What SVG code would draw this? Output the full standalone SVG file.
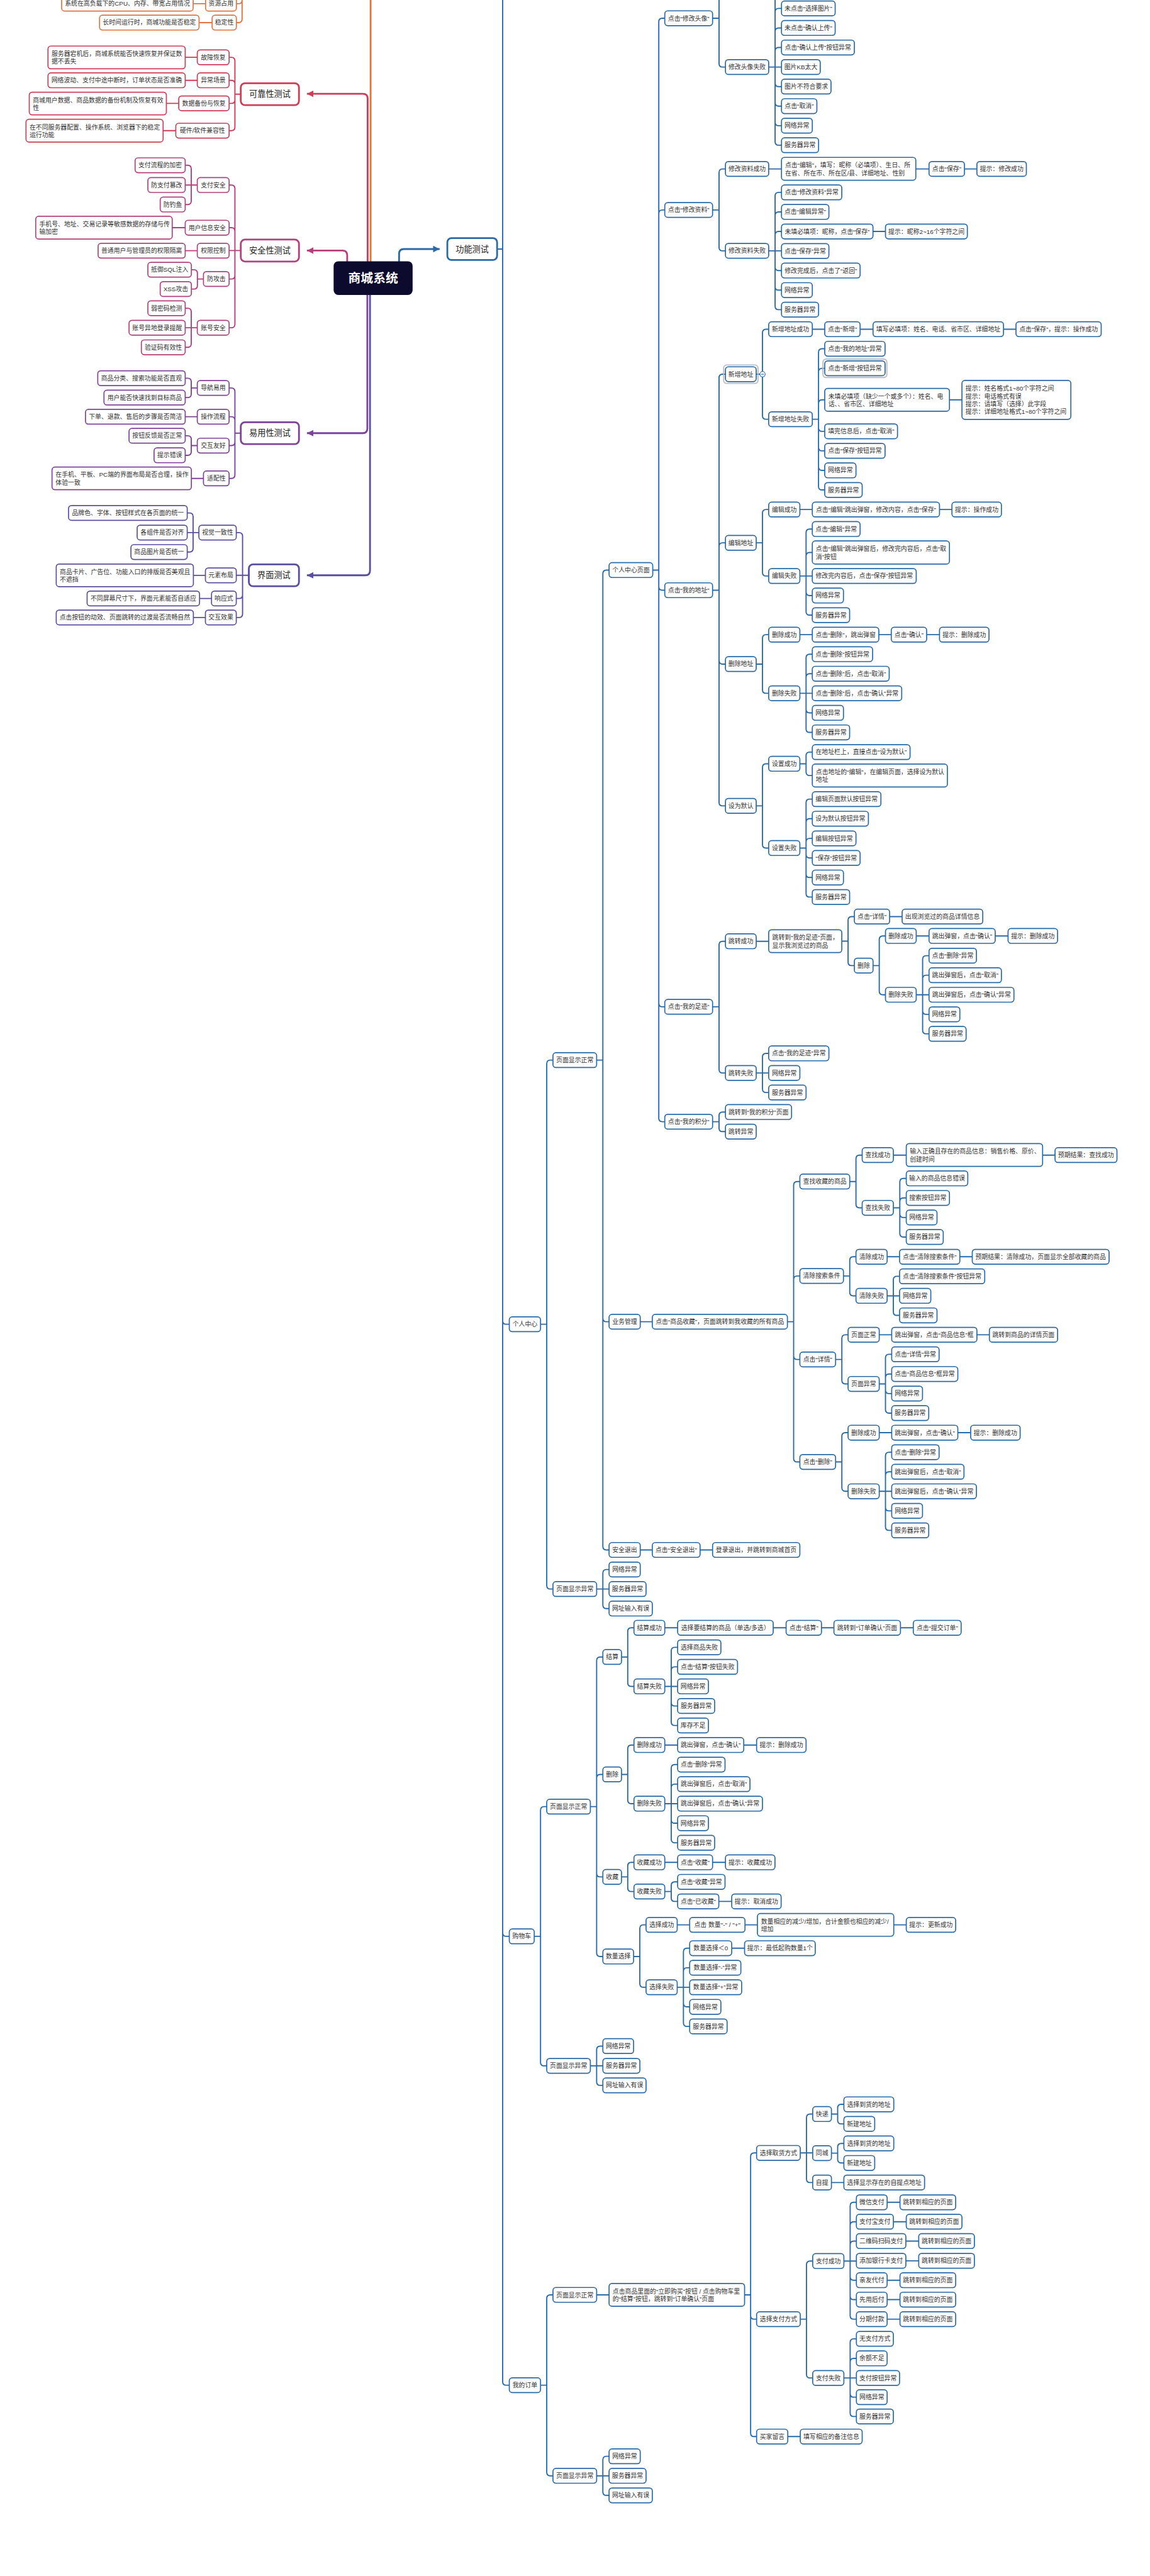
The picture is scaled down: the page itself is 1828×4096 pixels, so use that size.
<svg xmlns="http://www.w3.org/2000/svg" width="1828" height="4096" viewBox="0 0 1828 4096">
<defs>
<style>
text,tspan{font-family:"Liberation Sans","Noto Sans CJK SC","Noto Sans",sans-serif;font-size:10.5px;fill:#333;dominant-baseline:central}
text{text-anchor:middle}
text.ml{text-anchor:start}
rect{fill:#fff;stroke-width:1.8px;rx:5px;ry:5px}
.b rect{stroke:#2a6aa6}
.p rect{stroke:#e0743f}
.r rect{stroke:#cc3d57}
.s rect{stroke:#b2407a}
.u rect{stroke:#7e4399}
.i rect{stroke:#5a4f9e}
.rt rect{stroke-width:3px;rx:7px;ry:7px}
.rt text{font-size:14px;fill:#222}
.b rect.hl{fill:none;stroke:#bdbdbd;stroke-width:2px}
#root rect{fill:#0c0b2e;stroke:#0c0b2e;rx:7px;ry:7px}
#root text{fill:#fff;font-size:21px;font-weight:bold}
path{fill:none;stroke-width:2px}
.cb{stroke:#2a6aa6}.cp{stroke:#e0743f}.cr{stroke:#cc3d57}.cs{stroke:#b2407a}.cu{stroke:#7e4399}.ci{stroke:#5a4f9e}
.m{stroke-width:3px}
#mb path{fill:#2a6aa6;stroke:none}#mr path{fill:#cc3d57;stroke:none}#ms path{fill:#b2407a;stroke:none}#mu path{fill:#7e4399;stroke:none}#mi path{fill:#5a4f9e;stroke:none}
#collapse circle{fill:#fff;stroke:#2a6aa6;stroke-width:1.2px}
#collapse path{stroke:#2a6aa6;stroke-width:1.2px}
</style>
<marker id="mb" markerUnits="userSpaceOnUse" markerWidth="12" markerHeight="12" refX="11" refY="6" orient="auto"><path d="M0,0.5L11,6L0,11.5z"/></marker>
<marker id="mr" markerUnits="userSpaceOnUse" markerWidth="12" markerHeight="12" refX="11" refY="6" orient="auto"><path d="M0,0.5L11,6L0,11.5z"/></marker>
<marker id="ms" markerUnits="userSpaceOnUse" markerWidth="12" markerHeight="12" refX="11" refY="6" orient="auto"><path d="M0,0.5L11,6L0,11.5z"/></marker>
<marker id="mu" markerUnits="userSpaceOnUse" markerWidth="12" markerHeight="12" refX="11" refY="6" orient="auto"><path d="M0,0.5L11,6L0,11.5z"/></marker>
<marker id="mi" markerUnits="userSpaceOnUse" markerWidth="12" markerHeight="12" refX="11" refY="6" orient="auto"><path d="M0,0.5L11,6L0,11.5z"/></marker>
</defs>
<g transform="scale(0.9418)">
<g id="connectors">
<path class="cb m" d="M673.6,442V428.5Q673.6,420.5 681.6,420.5H742" marker-end="url(#mb)"/>
<path class="cs m" d="M586,442V431Q586,423 578,423H518" marker-end="url(#ms)"/>
<path class="cr m" d="M620.5,442V166.4Q620.5,158.4 612.5,158.4H518" marker-end="url(#mr)"/>
<path class="cp m" d="M625.5,442V-30"/>
<path class="cu m" d="M620,497V723.3Q620,731.3 612,731.3H518" marker-end="url(#mu)"/>
<path class="ci m" d="M624.5,497V963.3Q624.5,971.3 616.5,971.3H518" marker-end="url(#mi)"/>
<path class="cp" d="M399,6.2H402.6Q408.6,6.2 408.6,0.2V-30M399,38.2H402.6Q408.6,38.2 408.6,32.2V-30M347,6.2H326M358,38.2H336"/>
<path class="cr" d="M406.4,159H396.5M396.5,159V102.8Q396.5,96.8 390.5,96.8H386.7M396.5,159V141.6Q396.5,135.6 390.5,135.6H386.7M396.5,159V168.5Q396.5,174.5 390.5,174.5H386.7M396.5,159V214.6Q396.5,220.6 390.5,220.6H386.7M333,96.8H312.6M333,135.6H312.6M301.7,174.5H280.8M296.7,220.6H275.3"/>
<path class="cs" d="M406.4,423H396.5M396.5,423V318.4Q396.5,312.4 390.5,312.4H386.7M396.5,423V390.4Q396.5,384.4 390.5,384.4H386.7M396.5,423H386.7M396.5,423V465Q396.5,471 390.5,471H386.7M396.5,423V547.3Q396.5,553.3 390.5,553.3H386.7M333,312.4H312.6M322.8,312.4V285Q322.8,279 316.8,279H312.6M322.8,312.4V339.3Q322.8,345.3 316.8,345.3H312.6M312.6,384.4H290.7M333,423.3H312.6M343.4,471H333.2M333.2,471V461.4Q333.2,455.4 327.2,455.4H323M333.2,471V482Q333.2,488 327.2,488H323M333,553.3H312.6M322.8,553.3V526.4Q322.8,520.4 316.8,520.4H312.6M322.8,553.3V580.4Q322.8,586.4 316.8,586.4H312.6"/>
<path class="cu" d="M406.4,731.3H396.5M396.5,731.3V661Q396.5,655 390.5,655H386.7M396.5,731.3V709.6Q396.5,703.6 390.5,703.6H386.7M396.5,731.3V746.3Q396.5,752.3 390.5,752.3H386.7M396.5,731.3V801.7Q396.5,807.7 390.5,807.7H386.7M333,655H322.8M322.8,655V644.5Q322.8,638.5 316.8,638.5H312.6M322.8,655V665.2Q322.8,671.2 316.8,671.2H312.6M333,703.6H312.6M333,752.3H322.8M322.8,752.3V741.7Q322.8,735.7 316.8,735.7H312.6M322.8,752.3V762.7Q322.8,768.7 316.8,768.7H312.6M343.4,807.7H323"/>
<path class="ci" d="M420,971.3H398.8M409.4,971.3V905.2Q409.4,899.2 403.4,899.2H398.8M409.4,971.3V1004.4Q409.4,1010.4 403.4,1010.4H398.8M409.4,971.3V1036.5Q409.4,1042.5 403.4,1042.5H398.8M335.7,899.2H316M325.9,899.2V872Q325.9,866 319.9,866H316M325.9,899.2V926Q325.9,932 319.9,932H316M346.7,971.4H326.4M357,1010.4H336.8M346.7,1042.5H326.4"/>
<path class="cb" d="M839,420.5H848.4M848.4,-20V4021Q848.4,4027 854.4,4027H859.6M848.4,2229.8Q848.4,2235.8 854.4,2235.8H859.6M848.4,3263.2Q848.4,3269.2 854.4,3269.2H859.6"/>
<path class="cb" d="M912.3,2235.8H922.8M922.8,2235.8V1795.8Q922.8,1789.8 928.8,1789.8H933.3M922.8,2235.8V2676.8Q922.8,2682.8 928.8,2682.8H933.3M1007,1789.8H1017.5M1017.5,1789.8V968.5Q1017.5,962.5 1023.5,962.5H1028M1017.5,1789.8V2225.5Q1017.5,2231.5 1023.5,2231.5H1028M1017.5,1789.8V2610.8Q1017.5,2616.8 1023.5,2616.8H1028M1007,2682.8H1028M1017.5,2682.8V2655.8Q1017.5,2649.8 1023.5,2649.8H1028M1017.5,2682.8V2709.8Q1017.5,2715.8 1023.5,2715.8H1028"/>
<path class="cb" d="M1101.7,962.5H1111.9M1111.9,962.5V36.8Q1111.9,30.8 1117.9,30.8H1122M1111.9,962.5V360.5Q1111.9,354.5 1117.9,354.5H1122M1111.9,962.5V990.5Q1111.9,996.5 1117.9,996.5H1122M1111.9,962.5V1693.8Q1111.9,1699.8 1117.9,1699.8H1122M1111.9,962.5V1887.8Q1111.9,1893.8 1117.9,1893.8H1122"/>
<path class="cb" d="M1202.7,30.8H1213.6M1213.6,30.8V-45.6Q1213.6,-51.6 1219.6,-51.6H1224.4M1213.6,30.8V107.2Q1213.6,113.2 1219.6,113.2H1224.4M1297.4,113.2H1319M1308.2,113.2V-12.8Q1308.2,-18.8 1314.2,-18.8H1319M1308.2,113.2V20.2Q1308.2,14.2 1314.2,14.2H1319M1308.2,113.2V53.2Q1308.2,47.2 1314.2,47.2H1319M1308.2,113.2V86.2Q1308.2,80.2 1314.2,80.2H1319M1308.2,113.2V140.2Q1308.2,146.2 1314.2,146.2H1319M1308.2,113.2V173.2Q1308.2,179.2 1314.2,179.2H1319M1308.2,113.2V206.2Q1308.2,212.2 1314.2,212.2H1319M1308.2,113.2V239.2Q1308.2,245.2 1314.2,245.2H1319"/>
<path class="cb" d="M1202.7,354.5H1213.6M1213.6,354.5V291.2Q1213.6,285.2 1219.6,285.2H1224.4M1213.6,354.5V417.5Q1213.6,423.5 1219.6,423.5H1224.4M1297.4,285.2H1319M1545.7,285.2H1568M1627.8,285.2H1648.8M1297.4,423.5H1319M1308.2,423.5V330.8Q1308.2,324.8 1314.2,324.8H1319M1308.2,423.5V363.8Q1308.2,357.8 1314.2,357.8H1319M1308.2,423.5V396.8Q1308.2,390.8 1314.2,390.8H1319M1308.2,423.5V450.8Q1308.2,456.8 1314.2,456.8H1319M1308.2,423.5V483.8Q1308.2,489.8 1314.2,489.8H1319M1308.2,423.5V516.8Q1308.2,522.8 1314.2,522.8H1319M1473.4,390.8H1494.5"/>
<path class="cb" d="M1202.7,996.5H1213.6M1213.6,996.5V637.8Q1213.6,631.8 1219.6,631.8H1224.4M1213.6,996.5V922.5Q1213.6,916.5 1219.6,916.5H1224.4M1213.6,996.5V1115.2Q1213.6,1121.2 1219.6,1121.2H1224.4M1213.6,996.5V1354.5Q1213.6,1360.5 1219.6,1360.5H1224.4"/>
<path class="cb" d="M1276.3,631.8H1286.9M1286.9,631.8V561.8Q1286.9,555.8 1292.9,555.8H1297.4M1286.9,631.8V701.8Q1286.9,707.8 1292.9,707.8H1297.4M1371,555.8H1392M1451.7,555.8H1473.5M1693.7,555.8H1714.8M1371,707.8H1381.5M1381.5,707.8V594.8Q1381.5,588.8 1387.5,588.8H1392M1381.5,707.8V627.8Q1381.5,621.8 1387.5,621.8H1392M1381.5,707.8V681Q1381.5,675 1387.5,675H1392M1381.5,707.8V722.2Q1381.5,728.2 1387.5,728.2H1392M1381.5,707.8V755.2Q1381.5,761.2 1387.5,761.2H1392M1381.5,707.8V788.2Q1381.5,794.2 1387.5,794.2H1392M1381.5,707.8V821.2Q1381.5,827.2 1387.5,827.2H1392M1602.5,675H1623.6"/>
<path class="cb" d="M1276.3,916.5H1286.9M1286.9,916.5V866.2Q1286.9,860.2 1292.9,860.2H1297.4M1286.9,916.5V966.5Q1286.9,972.5 1292.9,972.5H1297.4M1350,860.2H1371M1585.7,860.2H1606.7M1350,972.5H1371M1360.5,972.5V899.2Q1360.5,893.2 1366.5,893.2H1371M1360.5,972.5V938.8Q1360.5,932.8 1366.5,932.8H1371M1360.5,972.5V999.5Q1360.5,1005.5 1366.5,1005.5H1371M1360.5,972.5V1032.5Q1360.5,1038.5 1366.5,1038.5H1371"/>
<path class="cb" d="M1276.3,1121.2H1286.9M1286.9,1121.2V1077.5Q1286.9,1071.5 1292.9,1071.5H1297.4M1286.9,1121.2V1164.5Q1286.9,1170.5 1292.9,1170.5H1297.4M1350,1071.5H1371M1483.3,1071.5H1504.3M1564,1071.5H1585.7M1350,1170.5H1371M1360.5,1170.5V1110.5Q1360.5,1104.5 1366.5,1104.5H1371M1360.5,1170.5V1143.5Q1360.5,1137.5 1366.5,1137.5H1371M1360.5,1170.5V1197.5Q1360.5,1203.5 1366.5,1203.5H1371M1360.5,1170.5V1230.5Q1360.5,1236.5 1366.5,1236.5H1371"/>
<path class="cb" d="M1276.3,1360.5H1286.9M1286.9,1360.5V1295.5Q1286.9,1289.5 1292.9,1289.5H1297.4M1286.9,1360.5V1425.8Q1286.9,1431.8 1292.9,1431.8H1297.4M1350,1289.5H1360.5M1360.5,1289.5V1275.8Q1360.5,1269.8 1366.5,1269.8H1371M1360.5,1289.5V1303.3Q1360.5,1309.3 1366.5,1309.3H1371M1350,1431.8H1360.5M1360.5,1431.8V1355.2Q1360.5,1349.2 1366.5,1349.2H1371M1360.5,1431.8V1388.2Q1360.5,1382.2 1366.5,1382.2H1371M1360.5,1431.8V1421.5Q1360.5,1415.5 1366.5,1415.5H1371M1360.5,1431.8V1442.5Q1360.5,1448.5 1366.5,1448.5H1371M1360.5,1431.8V1475.5Q1360.5,1481.5 1366.5,1481.5H1371M1360.5,1431.8V1508.5Q1360.5,1514.5 1366.5,1514.5H1371"/>
<path class="cb" d="M1202.7,1699.8H1213.6M1213.6,1699.8V1595.2Q1213.6,1589.2 1219.6,1589.2H1224.4M1213.6,1699.8V1805.5Q1213.6,1811.5 1219.6,1811.5H1224.4M1276.3,1589.2H1297.4M1420.8,1589H1431.4M1431.4,1589V1553.5Q1431.4,1547.5 1437.4,1547.5H1442M1431.4,1589V1624.2Q1431.4,1630.2 1437.4,1630.2H1442M1501.5,1547.5H1522.6M1473.5,1630.2H1484M1484,1630.2V1586.2Q1484,1580.2 1490,1580.2H1494.5M1484,1630.2V1673.5Q1484,1679.5 1490,1679.5H1494.5M1546.4,1580.2H1568M1679.7,1580.2H1701.4M1546.4,1679.5H1568M1557.2,1679.5V1619.5Q1557.2,1613.5 1563.2,1613.5H1568M1557.2,1679.5V1652.5Q1557.2,1646.5 1563.2,1646.5H1568M1557.2,1679.5V1706.5Q1557.2,1712.5 1563.2,1712.5H1568M1557.2,1679.5V1739.5Q1557.2,1745.5 1563.2,1745.5H1568"/>
<path class="cb" d="M1276.3,1811.5H1297.4M1286.9,1811.5V1784.5Q1286.9,1778.5 1292.9,1778.5H1297.4M1286.9,1811.5V1838.5Q1286.9,1844.5 1292.9,1844.5H1297.4M1202.7,1893.8H1213.6M1213.6,1893.8V1883.5Q1213.6,1877.5 1219.6,1877.5H1224.4M1213.6,1893.8V1904.5Q1213.6,1910.5 1219.6,1910.5H1224.4"/>
<path class="cb" d="M1080.6,2231.5H1101M1329,2231.5H1339.5M1339.5,2231.5V2000.8Q1339.5,1994.8 1345.5,1994.8H1350M1339.5,2231.5V2160.2Q1339.5,2154.2 1345.5,2154.2H1350M1339.5,2231.5V2289.2Q1339.5,2295.2 1345.5,2295.2H1350M1339.5,2231.5V2462.2Q1339.5,2468.2 1345.5,2468.2H1350"/>
<path class="cb" d="M1434.2,1994.8H1444.7M1444.7,1994.8V1956.2Q1444.7,1950.2 1450.7,1950.2H1455.2M1444.7,1994.8V2033.2Q1444.7,2039.2 1450.7,2039.2H1455.2M1507.8,1950.2H1529.6M1759.7,1950.2H1780.7M1507.8,2039.2H1518.7M1518.7,2039.2V1995.5Q1518.7,1989.5 1524.7,1989.5H1529.6M1518.7,2039.2V2028.5Q1518.7,2022.5 1524.7,2022.5H1529.6M1518.7,2039.2V2049.5Q1518.7,2055.5 1524.7,2055.5H1529.6M1518.7,2039.2V2082.5Q1518.7,2088.5 1524.7,2088.5H1529.6"/>
<path class="cb" d="M1423.6,2154.2H1434.2M1434.2,2154.2V2127.8Q1434.2,2121.8 1440.2,2121.8H1444.7M1434.2,2154.2V2181.8Q1434.2,2187.8 1440.2,2187.8H1444.7M1497.3,2121.8H1518.3M1620,2121.8H1641M1497.3,2187.8H1518.3M1507.8,2187.8V2160.8Q1507.8,2154.8 1513.8,2154.8H1518.3M1507.8,2187.8V2214.8Q1507.8,2220.8 1513.8,2220.8H1518.3"/>
<path class="cb" d="M1410.3,2295.2H1420.9M1420.9,2295.2V2259.5Q1420.9,2253.5 1426.9,2253.5H1431.4M1420.9,2295.2V2330.5Q1420.9,2336.5 1426.9,2336.5H1431.4M1484,2253.5H1505M1648.8,2253.5H1669.9M1484,2336.5H1494.5M1494.5,2336.5V2292.5Q1494.5,2286.5 1500.5,2286.5H1505M1494.5,2336.5V2325.8Q1494.5,2319.8 1500.5,2319.8H1505M1494.5,2336.5V2346.8Q1494.5,2352.8 1500.5,2352.8H1505M1494.5,2336.5V2379.8Q1494.5,2385.8 1500.5,2385.8H1505"/>
<path class="cb" d="M1410.3,2468.2H1420.9M1420.9,2468.2V2424.8Q1420.9,2418.8 1426.9,2418.8H1431.4M1420.9,2468.2V2511.8Q1420.9,2517.8 1426.9,2517.8H1431.4M1484,2418.8H1505M1616.6,2418.8H1638.3M1484,2517.8H1505M1494.5,2517.8V2457.8Q1494.5,2451.8 1500.5,2451.8H1505M1494.5,2517.8V2490.8Q1494.5,2484.8 1500.5,2484.8H1505M1494.5,2517.8V2544.8Q1494.5,2550.8 1500.5,2550.8H1505M1494.5,2517.8V2577.8Q1494.5,2583.8 1500.5,2583.8H1505M1080.6,2616.8H1101M1181.6,2616.8H1202.7"/>
<path class="cb" d="M901.7,3269.2H912.3M912.3,3269.2V3056.2Q912.3,3050.2 918.3,3050.2H922.8M912.3,3269.2V3481.8Q912.3,3487.8 918.3,3487.8H922.8M996.4,3050.2H1007M1007,3050.2V2803.5Q1007,2797.5 1013,2797.5H1017.5M1007,3050.2V3001.8Q1007,2995.8 1013,2995.8H1017.5M1007,3050.2V3162.8Q1007,3168.8 1013,3168.8H1017.5M1007,3050.2V3297.2Q1007,3303.2 1013,3303.2H1017.5M996.4,3487.8H1017.5M1007,3487.8V3460.5Q1007,3454.5 1013,3454.5H1017.5M1007,3487.8V3514.8Q1007,3520.8 1013,3520.8H1017.5"/>
<path class="cb" d="M1049,2797.5H1059.5M1059.5,2797.5V2754.2Q1059.5,2748.2 1065.5,2748.2H1070M1059.5,2797.5V2841.2Q1059.5,2847.2 1065.5,2847.2H1070M1122,2748.2H1143.7M1305,2748.2H1326.8M1386.5,2748.2H1407.5M1519.8,2748.2H1541.5M1122,2847.2H1143.7M1132.9,2847.2V2787.2Q1132.9,2781.2 1138.9,2781.2H1143.7M1132.9,2847.2V2820.2Q1132.9,2814.2 1138.9,2814.2H1143.7M1132.9,2847.2V2874.2Q1132.9,2880.2 1138.9,2880.2H1143.7M1132.9,2847.2V2907.2Q1132.9,2913.2 1138.9,2913.2H1143.7"/>
<path class="cb" d="M1049,2995.8H1059.5M1059.5,2995.8V2952.2Q1059.5,2946.2 1065.5,2946.2H1070M1059.5,2995.8V3039.2Q1059.5,3045.2 1065.5,3045.2H1070M1122,2946.2H1143.7M1255.3,2946.2H1277M1122,3045.2H1143.7M1132.9,3045.2V2985.2Q1132.9,2979.2 1138.9,2979.2H1143.7M1132.9,3045.2V3018.2Q1132.9,3012.2 1138.9,3012.2H1143.7M1132.9,3045.2V3072.2Q1132.9,3078.2 1138.9,3078.2H1143.7M1132.9,3045.2V3105.2Q1132.9,3111.2 1138.9,3111.2H1143.7"/>
<path class="cb" d="M1049,3168.8H1059.5M1059.5,3168.8V3150.2Q1059.5,3144.2 1065.5,3144.2H1070M1059.5,3168.8V3187.5Q1059.5,3193.5 1065.5,3193.5H1070M1122,3144.2H1143.7M1202.7,3144.2H1224.4M1122,3193.5H1132.9M1132.9,3193.5V3183.2Q1132.9,3177.2 1138.9,3177.2H1143.7M1132.9,3193.5V3204.2Q1132.9,3210.2 1138.9,3210.2H1143.7M1213.2,3210.2H1235"/>
<path class="cb" d="M1069.4,3303.2H1079.9M1079.9,3303.2V3255.8Q1079.9,3249.8 1085.9,3249.8H1090.4M1079.9,3303.2V3349.2Q1079.9,3355.2 1085.9,3355.2H1090.4M1143,3249.8H1164M1257.4,3249.8H1278.4M1508.5,3249.8H1529.6M1143,3355.2H1164M1153.5,3355.2V3295.2Q1153.5,3289.2 1159.5,3289.2H1164M1153.5,3355.2V3328.2Q1153.5,3322.2 1159.5,3322.2H1164M1153.5,3355.2V3382.2Q1153.5,3388.2 1159.5,3388.2H1164M1153.5,3355.2V3415.2Q1153.5,3421.2 1159.5,3421.2H1164M1235,3289.2H1256.7"/>
<path class="cb" d="M912.3,4027H922.8M922.8,4027V3880.5Q922.8,3874.5 928.8,3874.5H933.3M922.8,4027V4174Q922.8,4180 928.8,4180H933.3M1007,3874.5H1028M1007,4180H1028M1017.5,4180V4153Q1017.5,4147 1023.5,4147H1028M1017.5,4180V4207Q1017.5,4213 1023.5,4213H1028"/>
<path class="cb" d="M1256.7,3874.5H1266.9M1266.9,3874.5V3640.8Q1266.9,3634.8 1272.9,3634.8H1277M1266.9,3874.5V3909.5Q1266.9,3915.5 1272.9,3915.5H1277M1266.9,3874.5V4107.7Q1266.9,4113.7 1272.9,4113.7H1277M1329.6,4113.7H1350.7"/>
<path class="cb" d="M1350.7,3634.8H1371.7M1361.2,3634.8V3575.2Q1361.2,3569.2 1367.2,3569.2H1371.7M1361.2,3634.8V3678.8Q1361.2,3684.8 1367.2,3684.8H1371.7M1403.3,3569.2H1413.8M1413.8,3569.2V3558.8Q1413.8,3552.8 1419.8,3552.8H1424.3M1413.8,3569.2V3579.8Q1413.8,3585.8 1419.8,3585.8H1424.3M1403.3,3635.2H1413.8M1413.8,3635.2V3624.8Q1413.8,3618.8 1419.8,3618.8H1424.3M1413.8,3635.2V3645.8Q1413.8,3651.8 1419.8,3651.8H1424.3M1403.3,3684.8H1424.3"/>
<path class="cb" d="M1350.7,3915.5H1361.2M1361.2,3915.5V3823.4Q1361.2,3817.4 1367.2,3817.4H1371.7M1361.2,3915.5V4008.8Q1361.2,4014.8 1367.2,4014.8H1371.7M1424.3,3817.4H1445.4M1434.9,3817.4V3724.2Q1434.9,3718.2 1440.9,3718.2H1445.4M1434.9,3817.4V3757Q1434.9,3751 1440.9,3751H1445.4M1434.9,3817.4V3789.7Q1434.9,3783.7 1440.9,3783.7H1445.4M1434.9,3817.4V3843.8Q1434.9,3849.8 1440.9,3849.8H1445.4M1434.9,3817.4V3876.5Q1434.9,3882.5 1440.9,3882.5H1445.4M1434.9,3817.4V3909.5Q1434.9,3915.5 1440.9,3915.5H1445.4M1497.3,3718.2H1519M1507.8,3751H1529.6M1528.9,3783.7H1550.6M1528.9,3817H1550.6M1497.3,3849.8H1519M1497.3,3882.5H1519M1497.3,3915.5H1519"/>
<path class="cb" d="M1424.3,4014.8H1445.4M1434.9,4014.8V3954.7Q1434.9,3948.7 1440.9,3948.7H1445.4M1434.9,4014.8V3987.7Q1434.9,3981.7 1440.9,3981.7H1445.4M1434.9,4014.8V4041.2Q1434.9,4047.2 1440.9,4047.2H1445.4M1434.9,4014.8V4073.8Q1434.9,4079.8 1440.9,4079.8H1445.4"/>
</g>

<g id="root"><rect x="564" y="442" width="131.5" height="55"/><text x="629.8" y="469.5">商城系统</text></g>
<g id="gongneng" class="b rt"><rect x="755" y="402" width="84" height="37"/><text x="797" y="420.5">功能测试</text></g>

<g id="p1" class="p"><rect x="104" y="-6.3" width="222" height="25"/><text x="215" y="6.2">系统在高负载下的CPU、内存、带宽占用情况</text></g>
<g id="p2" class="p"><rect x="347" y="-6.3" width="52" height="25"/><text x="373" y="6.2">资源占用</text></g>
<g id="p3" class="p"><rect x="168" y="25.7" width="168" height="25"/><text x="252" y="38.2">长时间运行时，商城功能是否稳定</text></g>
<g id="p4" class="p"><rect x="358" y="25.7" width="41" height="25"/><text x="378.5" y="38.2">稳定性</text></g>

<g id="r0" class="r rt"><rect x="406.4" y="140.5" width="98.2" height="37"/><text x="455.5" y="159">可靠性测试</text></g>
<g id="r1" class="r"><rect x="333" y="84.3" width="53.7" height="25"/><text x="359.9" y="96.8">故障恢复</text></g>
<g id="r1t" class="r"><rect x="81" y="77.8" width="231.6" height="38.4"/><text class="ml"><tspan x="87" y="90.5">服务器宕机后，商城系统能否快速恢复并保证数</tspan><tspan x="87" y="103.5">据不丢失</tspan></text></g>
<g id="r2" class="r"><rect x="333" y="123.1" width="53.7" height="25"/><text x="359.9" y="135.6">异常场景</text></g>
<g id="r2t" class="r"><rect x="81" y="123.1" width="231.6" height="25"/><text x="196.8" y="135.6">网络波动、支付中途中断时，订单状态是否准确</text></g>
<g id="r3" class="r"><rect x="301.7" y="162" width="85" height="25"/><text x="344.2" y="174.5">数据备份与恢复</text></g>
<g id="r3t" class="r"><rect x="49.4" y="155.6" width="231.4" height="38.4"/><text class="ml"><tspan x="55.4" y="168.3">商城用户数据、商品数据的备份机制及恢复有效</tspan><tspan x="55.4" y="181.3">性</tspan></text></g>
<g id="r4" class="r"><rect x="296.7" y="208.1" width="90" height="25"/><text x="341.7" y="220.6">硬件/软件兼容性</text></g>
<g id="r4t" class="r"><rect x="43.9" y="201.4" width="231.4" height="38.4"/><text class="ml"><tspan x="49.9" y="214.1">在不同服务器配置、操作系统、浏览器下的稳定</tspan><tspan x="49.9" y="227.1">运行功能</tspan></text></g>

<g id="s0" class="s rt"><rect x="406.4" y="404.5" width="98.2" height="37"/><text x="455.5" y="423">安全性测试</text></g>
<g id="s1" class="s"><rect x="333" y="299.9" width="53.7" height="25"/><text x="359.9" y="312.4">支付安全</text></g>
<g id="s1a" class="s"><rect x="228" y="266.5" width="84.6" height="25"/><text x="270.3" y="279">支付流程的加密</text></g>
<g id="s1b" class="s"><rect x="249.6" y="299.9" width="63" height="25"/><text x="281.1" y="312.4">防支付篡改</text></g>
<g id="s1c" class="s"><rect x="270.4" y="332.8" width="42.2" height="25"/><text x="291.5" y="345.3">防钓鱼</text></g>
<g id="s2" class="s"><rect x="312.6" y="371.9" width="74.1" height="25"/><text x="349.7" y="384.4">用户信息安全</text></g>
<g id="s2t" class="s"><rect x="60.3" y="365.1" width="230.4" height="38.5"/><text class="ml"><tspan x="66.3" y="377.9">手机号、地址、交易记录等敏感数据的存储与传</tspan><tspan x="66.3" y="390.9">输加密</tspan></text></g>
<g id="s3" class="s"><rect x="333" y="410.8" width="53.7" height="25"/><text x="359.9" y="423.3">权限控制</text></g>
<g id="s3t" class="s"><rect x="165.6" y="410.8" width="147" height="25"/><text x="239.1" y="423.3">普通用户与管理员的权限隔离</text></g>
<g id="s4" class="s"><rect x="343.4" y="458.5" width="43.3" height="25"/><text x="365.1" y="471">防攻击</text></g>
<g id="s4a" class="s"><rect x="249.6" y="442.9" width="73.4" height="25"/><text x="286.3" y="455.4">抵御SQL注入</text></g>
<g id="s4b" class="s"><rect x="270.4" y="475.5" width="52.6" height="25"/><text x="296.7" y="488">XSS攻击</text></g>
<g id="s5" class="s"><rect x="333" y="540.8" width="53.7" height="25"/><text x="359.9" y="553.3">账号安全</text></g>
<g id="s5a" class="s"><rect x="249.6" y="507.9" width="63" height="25"/><text x="281.1" y="520.4">弱密码检测</text></g>
<g id="s5b" class="s"><rect x="217.8" y="540.8" width="94.8" height="25"/><text x="265.2" y="553.3">账号异地登录提醒</text></g>
<g id="s5c" class="s"><rect x="238.6" y="573.9" width="74" height="25"/><text x="275.6" y="586.4">验证码有效性</text></g>

<g id="u0" class="u rt"><rect x="406.4" y="712.8" width="98.2" height="37"/><text x="455.5" y="731.3">易用性测试</text></g>
<g id="u1" class="u"><rect x="333" y="642.5" width="53.7" height="25"/><text x="359.9" y="655">导航易用</text></g>
<g id="u1a" class="u"><rect x="165" y="626" width="147.6" height="25"/><text x="238.8" y="638.5">商品分类、搜索功能是否直观</text></g>
<g id="u1b" class="u"><rect x="175.5" y="658.7" width="137.1" height="25"/><text x="244.1" y="671.2">用户能否快速找到目标商品</text></g>
<g id="u2" class="u"><rect x="333" y="691.1" width="53.7" height="25"/><text x="359.9" y="703.6">操作流程</text></g>
<g id="u2t" class="u"><rect x="144.3" y="691.1" width="168.3" height="25"/><text x="228.5" y="703.6">下单、退款、售后的步骤是否简洁</text></g>
<g id="u3" class="u"><rect x="333" y="739.8" width="53.7" height="25"/><text x="359.9" y="752.3">交互友好</text></g>
<g id="u3a" class="u"><rect x="217.8" y="723.2" width="94.8" height="25"/><text x="265.2" y="735.7">按钮反馈是否正常</text></g>
<g id="u3b" class="u"><rect x="260" y="756.2" width="52.6" height="25"/><text x="286.3" y="768.7">提示错误</text></g>
<g id="u4" class="u"><rect x="343.4" y="795.2" width="43.3" height="25"/><text x="365.1" y="807.7">适配性</text></g>
<g id="u4t" class="u"><rect x="87.8" y="788.5" width="235.2" height="38.3"/><text class="ml"><tspan x="93.8" y="801.1">在手机、平板、PC端的界面布局是否合理，操作</tspan><tspan x="93.8" y="814.1">体验一致</tspan></text></g>

<g id="i0" class="i rt"><rect x="420" y="952.8" width="84.6" height="37"/><text x="462.3" y="971.3">界面测试</text></g>
<g id="i1" class="i"><rect x="335.7" y="886.7" width="63.1" height="25"/><text x="367.3" y="899.2">视觉一致性</text></g>
<g id="i1a" class="i"><rect x="115.7" y="853.5" width="200.3" height="25"/><text x="215.9" y="866">品牌色、字体、按钮样式在各页面的统一</text></g>
<g id="i1b" class="i"><rect x="231.5" y="886.7" width="84.5" height="25"/><text x="273.8" y="899.2">各组件是否对齐</text></g>
<g id="i1c" class="i"><rect x="221" y="919.5" width="95" height="25"/><text x="268.5" y="932">商品图片是否统一</text></g>
<g id="i2" class="i"><rect x="346.7" y="958.9" width="52.1" height="25"/><text x="372.8" y="971.4">元素布局</text></g>
<g id="i2t" class="i"><rect x="94.9" y="952.2" width="231.5" height="38.3"/><text class="ml"><tspan x="100.9" y="964.8">商品卡片、广告位、功能入口的排版是否美观且</tspan><tspan x="100.9" y="977.8">不遮挡</tspan></text></g>
<g id="i3" class="i"><rect x="357" y="997.9" width="41.8" height="25"/><text x="377.9" y="1010.4">响应式</text></g>
<g id="i3t" class="i"><rect x="147" y="997.9" width="189.8" height="25"/><text x="241.9" y="1010.4">不同屏幕尺寸下，界面元素能否自适应</text></g>
<g id="i4" class="i"><rect x="346.7" y="1030" width="52.1" height="25"/><text x="372.8" y="1042.5">交互效果</text></g>
<g id="i4t" class="i"><rect x="94.9" y="1030" width="231.5" height="25"/><text x="210.7" y="1042.5">点击按钮的动效、页面跳转的过渡是否流畅自然</text></g>

<g id="n1" class="b"><rect x="859.6" y="2223.3" width="52.7" height="25"/><text x="886" y="2235.8">个人中心</text></g>
<g id="n2" class="b"><rect x="933.3" y="1777.3" width="73.7" height="25"/><text x="970.2" y="1789.8">页面显示正常</text></g>
<g id="n3" class="b"><rect x="933.3" y="2670.3" width="73.7" height="25"/><text x="970.2" y="2682.8">页面显示异常</text></g>
<g id="n4" class="b"><rect x="1028" y="950" width="73.7" height="25"/><text x="1064.9" y="962.5">个人中心页面</text></g>
<g id="n5" class="b"><rect x="1028" y="2219" width="52.6" height="25"/><text x="1054.3" y="2231.5">业务管理</text></g>
<g id="n6" class="b"><rect x="1028" y="2604.3" width="52.6" height="25"/><text x="1054.3" y="2616.8">安全退出</text></g>
<g id="n7" class="b"><rect x="1028" y="2637.3" width="52.6" height="25"/><text x="1054.3" y="2649.8">网络异常</text></g>
<g id="n8" class="b"><rect x="1028" y="2670.3" width="62.4" height="25"/><text x="1059.2" y="2682.8">服务器异常</text></g>
<g id="n9" class="b"><rect x="1028" y="2703.3" width="73" height="25"/><text x="1064.5" y="2715.8">网址输入有误</text></g>
<g id="n10" class="b"><rect x="1122" y="18.3" width="80.7" height="25"/><text x="1162.4" y="30.8">点击“修改头像”</text></g>
<g id="n11" class="b"><rect x="1122" y="342" width="80.7" height="25"/><text x="1162.4" y="354.5">点击“修改资料”</text></g>
<g id="n12" class="b"><rect x="1122" y="984" width="80.7" height="25"/><text x="1162.4" y="996.5">点击“我的地址”</text></g>
<g id="n13" class="b"><rect x="1122" y="1687.3" width="80.7" height="25"/><text x="1162.4" y="1699.8">点击“我的足迹”</text></g>
<g id="n14" class="b"><rect x="1122" y="1881.3" width="80.7" height="25"/><text x="1162.4" y="1893.8">点击“我的积分”</text></g>
<g id="n15" class="b"><rect x="1224.4" y="100.7" width="73" height="25"/><text x="1260.9" y="113.2">修改头像失败</text></g>
<g id="n16" class="b"><rect x="1319" y="1.7" width="90.6" height="25"/><text x="1364.3" y="14.2">未点击“选择图片”</text></g>
<g id="n17" class="b"><rect x="1319" y="34.7" width="90.6" height="25"/><text x="1364.3" y="47.2">未点击“确认上传”</text></g>
<g id="n18" class="b"><rect x="1319" y="67.7" width="123" height="25"/><text x="1380.5" y="80.2">点击“确认上传”按钮异常</text></g>
<g id="n19" class="b"><rect x="1319" y="100.7" width="65.4" height="25"/><text x="1351.7" y="113.2">图片KB太大</text></g>
<g id="n20" class="b"><rect x="1319" y="133.7" width="83.6" height="25"/><text x="1360.8" y="146.2">图片不符合要求</text></g>
<g id="n21" class="b"><rect x="1319" y="166.7" width="59.7" height="25"/><text x="1348.9" y="179.2">点击“取消”</text></g>
<g id="n22" class="b"><rect x="1319" y="199.7" width="52" height="25"/><text x="1345" y="212.2">网络异常</text></g>
<g id="n23" class="b"><rect x="1319" y="232.7" width="62.6" height="25"/><text x="1350.3" y="245.2">服务器异常</text></g>
<g id="n24" class="b"><rect x="1224.4" y="272.7" width="73" height="25"/><text x="1260.9" y="285.2">修改资料成功</text></g>
<g id="n25" class="b"><rect x="1319" y="265.7" width="226.7" height="38.6"/><text class="ml"><tspan x="1325" y="278.5">点击“编辑”，填写：昵称（必填项）、生日、所</tspan><tspan x="1325" y="291.5">在省、所在市、所在区/县、详细地址、性别</tspan></text></g>
<g id="n26" class="b"><rect x="1568" y="272.7" width="59.8" height="25"/><text x="1597.9" y="285.2">点击“保存”</text></g>
<g id="n27" class="b"><rect x="1648.8" y="272.7" width="83.5" height="25"/><text x="1690.6" y="285.2">提示：修改成功</text></g>
<g id="n28" class="b"><rect x="1224.4" y="411" width="73" height="25"/><text x="1260.9" y="423.5">修改资料失败</text></g>
<g id="n29" class="b"><rect x="1319" y="312.3" width="101.8" height="25"/><text x="1369.9" y="324.8">点击“修改资料”异常</text></g>
<g id="n30" class="b"><rect x="1319" y="345.3" width="80" height="25"/><text x="1359" y="357.8">点击“编辑异常”</text></g>
<g id="n31" class="b"><rect x="1319" y="378.3" width="154.4" height="25"/><text x="1396.2" y="390.8">未填必填项：昵称，点击“保存”</text></g>
<g id="n32" class="b"><rect x="1494.5" y="378.3" width="138.2" height="25"/><text x="1563.6" y="390.8">提示：昵称2~16个字符之间</text></g>
<g id="n33" class="b"><rect x="1319" y="411.3" width="80" height="25"/><text x="1359" y="423.8">点击“保存”异常</text></g>
<g id="n34" class="b"><rect x="1319" y="444.3" width="132.7" height="25"/><text x="1385.4" y="456.8">修改完成后，点击了“返回”</text></g>
<g id="n35" class="b"><rect x="1319" y="477.3" width="52" height="25"/><text x="1345" y="489.8">网络异常</text></g>
<g id="n36" class="b"><rect x="1319" y="510.3" width="62.6" height="25"/><text x="1350.3" y="522.8">服务器异常</text></g>
<g id="n37" class="b"><rect class="hl" x="1221.4" y="616.3" width="57.9" height="31"/><rect x="1224.4" y="619.3" width="51.9" height="25"/><text x="1250.4" y="631.8">新增地址</text></g>
<g id="n38" class="b"><rect x="1297.4" y="543.3" width="73.6" height="25"/><text x="1334.2" y="555.8">新增地址成功</text></g>
<g id="n39" class="b"><rect x="1392" y="543.3" width="59.7" height="25"/><text x="1421.9" y="555.8">点击“新增”</text></g>
<g id="n40" class="b"><rect x="1473.5" y="543.3" width="220.2" height="25"/><text x="1583.6" y="555.8">填写必填项：姓名、电话、省市区、详细地址</text></g>
<g id="n41" class="b"><rect x="1714.8" y="543.3" width="143.8" height="25"/><text x="1786.7" y="555.8">点击“保存”，提示：操作成功</text></g>
<g id="n42" class="b"><rect x="1297.4" y="695.3" width="73.6" height="25"/><text x="1334.2" y="707.8">新增地址失败</text></g>
<g id="n43" class="b"><rect x="1392" y="576.3" width="101.8" height="25"/><text x="1442.9" y="588.8">点击“我的地址”异常</text></g>
<g id="n44" class="b"><rect class="hl" x="1389" y="606.3" width="107.8" height="31"/><rect x="1392" y="609.3" width="101.8" height="25"/><text x="1442.9" y="621.8">点击“新增”按钮异常</text></g>
<g id="n45" class="b"><rect x="1392" y="655.7" width="210.5" height="38.6"/><text class="ml"><tspan x="1398" y="668.5">未填必填项（缺少一个或多个）：姓名、电</tspan><tspan x="1398" y="681.5">话、、省市区、详细地址</tspan></text></g>
<g id="n46" class="b"><rect x="1623.6" y="642.3" width="183.8" height="65.7"/><text class="ml"><tspan x="1629.6" y="655.6">提示：姓名格式1~80个字符之间</tspan><tspan x="1629.6" y="668.6">提示：电话格式有误</tspan><tspan x="1629.6" y="681.6">提示：请填写（选择）此字段</tspan><tspan x="1629.6" y="694.6">提示：详细地址格式1~80个字符之间</tspan></text></g>
<g id="n47" class="b"><rect x="1392" y="715.7" width="122.8" height="25"/><text x="1453.4" y="728.2">填完信息后，点击“取消”</text></g>
<g id="n48" class="b"><rect x="1392" y="748.7" width="101.8" height="25"/><text x="1442.9" y="761.2">点击“保存”按钮异常</text></g>
<g id="n49" class="b"><rect x="1392" y="781.7" width="52.7" height="25"/><text x="1418.4" y="794.2">网络异常</text></g>
<g id="n50" class="b"><rect x="1392" y="814.7" width="63.2" height="25"/><text x="1423.6" y="827.2">服务器异常</text></g>
<g id="n51" class="b"><rect x="1224.4" y="904" width="51.9" height="25"/><text x="1250.4" y="916.5">编辑地址</text></g>
<g id="n52" class="b"><rect x="1297.4" y="847.7" width="52.6" height="25"/><text x="1323.7" y="860.2">编辑成功</text></g>
<g id="n53" class="b"><rect x="1371" y="847.7" width="214.7" height="25"/><text x="1478.4" y="860.2">点击“编辑”跳出弹窗，修改内容，点击“保存”</text></g>
<g id="n54" class="b"><rect x="1606.7" y="847.7" width="83.5" height="25"/><text x="1648.5" y="860.2">提示：操作成功</text></g>
<g id="n55" class="b"><rect x="1297.4" y="960" width="52.6" height="25"/><text x="1323.7" y="972.5">编辑失败</text></g>
<g id="n56" class="b"><rect x="1371" y="880.7" width="80.7" height="25"/><text x="1411.4" y="893.2">点击“编辑”异常</text></g>
<g id="n57" class="b"><rect x="1371" y="913.3" width="231.5" height="39"/><text class="ml"><tspan x="1377" y="926.3">点击“编辑”跳出弹窗后，修改完内容后，点击“取</tspan><tspan x="1377" y="939.3">消”按钮</tspan></text></g>
<g id="n58" class="b"><rect x="1371" y="960" width="175.4" height="25"/><text x="1458.7" y="972.5">修改完内容后，点击“保存”按钮异常</text></g>
<g id="n59" class="b"><rect x="1371" y="993" width="52.6" height="25"/><text x="1397.3" y="1005.5">网络异常</text></g>
<g id="n60" class="b"><rect x="1371" y="1026" width="63" height="25"/><text x="1402.5" y="1038.5">服务器异常</text></g>
<g id="n61" class="b"><rect x="1224.4" y="1108.7" width="51.9" height="25"/><text x="1250.4" y="1121.2">删除地址</text></g>
<g id="n62" class="b"><rect x="1297.4" y="1059" width="52.6" height="25"/><text x="1323.7" y="1071.5">删除成功</text></g>
<g id="n63" class="b"><rect x="1371" y="1059" width="112.3" height="25"/><text x="1427.2" y="1071.5">点击“删除”，跳出弹窗</text></g>
<g id="n64" class="b"><rect x="1504.3" y="1059" width="59.7" height="25"/><text x="1534.2" y="1071.5">点击“确认”</text></g>
<g id="n65" class="b"><rect x="1585.7" y="1059" width="83.5" height="25"/><text x="1627.5" y="1071.5">提示：删除成功</text></g>
<g id="n66" class="b"><rect x="1297.4" y="1158" width="52.6" height="25"/><text x="1323.7" y="1170.5">删除失败</text></g>
<g id="n67" class="b"><rect x="1371" y="1092" width="101.8" height="25"/><text x="1421.9" y="1104.5">点击“删除”按钮异常</text></g>
<g id="n68" class="b"><rect x="1371" y="1125" width="129.8" height="25"/><text x="1435.9" y="1137.5">点击“删除”后，点击“取消”</text></g>
<g id="n69" class="b"><rect x="1371" y="1158" width="150.9" height="25"/><text x="1446.5" y="1170.5">点击“删除”后，点击“确认”异常</text></g>
<g id="n70" class="b"><rect x="1371" y="1191" width="52.6" height="25"/><text x="1397.3" y="1203.5">网络异常</text></g>
<g id="n71" class="b"><rect x="1371" y="1224" width="63" height="25"/><text x="1402.5" y="1236.5">服务器异常</text></g>
<g id="n72" class="b"><rect x="1224.4" y="1348" width="51.9" height="25"/><text x="1250.4" y="1360.5">设为默认</text></g>
<g id="n73" class="b"><rect x="1297.4" y="1277" width="52.6" height="25"/><text x="1323.7" y="1289.5">设置成功</text></g>
<g id="n74" class="b"><rect x="1371" y="1257.3" width="165" height="25"/><text x="1453.5" y="1269.8">在地址栏上，直接点击“设为默认”</text></g>
<g id="n75" class="b"><rect x="1371" y="1290" width="228" height="38.7"/><text class="ml"><tspan x="1377" y="1302.8">点击地址的“编辑”，在编辑页面，选择设为默认</tspan><tspan x="1377" y="1315.8">地址</tspan></text></g>
<g id="n76" class="b"><rect x="1297.4" y="1419.3" width="52.6" height="25"/><text x="1323.7" y="1431.8">设置失败</text></g>
<g id="n77" class="b"><rect x="1371" y="1336.7" width="115.8" height="25"/><text x="1428.9" y="1349.2">编辑页面默认按钮异常</text></g>
<g id="n78" class="b"><rect x="1371" y="1369.7" width="94.7" height="25"/><text x="1418.4" y="1382.2">设为默认按钮异常</text></g>
<g id="n79" class="b"><rect x="1371" y="1403" width="73.7" height="25"/><text x="1407.9" y="1415.5">编辑按钮异常</text></g>
<g id="n80" class="b"><rect x="1371" y="1436" width="80.7" height="25"/><text x="1411.4" y="1448.5">“保存”按钮异常</text></g>
<g id="n81" class="b"><rect x="1371" y="1469" width="52.6" height="25"/><text x="1397.3" y="1481.5">网络异常</text></g>
<g id="n82" class="b"><rect x="1371" y="1502" width="63" height="25"/><text x="1402.5" y="1514.5">服务器异常</text></g>
<g id="n83" class="b"><rect x="1224.4" y="1576.7" width="51.9" height="25"/><text x="1250.4" y="1589.2">跳转成功</text></g>
<g id="n84" class="b"><rect x="1297.4" y="1569.7" width="123.4" height="38.6"/><text class="ml"><tspan x="1303.4" y="1582.5">跳转到“我的足迹”页面，</tspan><tspan x="1303.4" y="1595.5">显示我浏览过的商品</tspan></text></g>
<g id="n85" class="b"><rect x="1442" y="1535" width="59.5" height="25"/><text x="1471.8" y="1547.5">点击“详情”</text></g>
<g id="n86" class="b"><rect x="1522.6" y="1535" width="136.1" height="25"/><text x="1590.7" y="1547.5">出现浏览过的商品详情信息</text></g>
<g id="n87" class="b"><rect x="1442" y="1617.7" width="31.5" height="25"/><text x="1457.8" y="1630.2">删除</text></g>
<g id="n88" class="b"><rect x="1494.5" y="1567.7" width="51.9" height="25"/><text x="1520.5" y="1580.2">删除成功</text></g>
<g id="n89" class="b"><rect x="1568" y="1567.7" width="111.7" height="25"/><text x="1623.9" y="1580.2">跳出弹窗，点击“确认”</text></g>
<g id="n90" class="b"><rect x="1701.4" y="1567.7" width="83.6" height="25"/><text x="1743.2" y="1580.2">提示：删除成功</text></g>
<g id="n91" class="b"><rect x="1494.5" y="1667" width="51.9" height="25"/><text x="1520.5" y="1679.5">删除失败</text></g>
<g id="n92" class="b"><rect x="1568" y="1601" width="80" height="25"/><text x="1608" y="1613.5">点击“删除”异常</text></g>
<g id="n93" class="b"><rect x="1568" y="1634" width="122.2" height="25"/><text x="1629.1" y="1646.5">跳出弹窗后，点击“取消”</text></g>
<g id="n94" class="b"><rect x="1568" y="1667" width="143.3" height="25"/><text x="1639.7" y="1679.5">跳出弹窗后，点击“确认”异常</text></g>
<g id="n95" class="b"><rect x="1568" y="1700" width="52" height="25"/><text x="1594" y="1712.5">网络异常</text></g>
<g id="n96" class="b"><rect x="1568" y="1733" width="62.6" height="25"/><text x="1599.3" y="1745.5">服务器异常</text></g>
<g id="n97" class="b"><rect x="1224.4" y="1799" width="51.9" height="25"/><text x="1250.4" y="1811.5">跳转失败</text></g>
<g id="n98" class="b"><rect x="1297.4" y="1766" width="101.6" height="25"/><text x="1348.2" y="1778.5">点击“我的足迹”异常</text></g>
<g id="n99" class="b"><rect x="1297.4" y="1799" width="52.6" height="25"/><text x="1323.7" y="1811.5">网络异常</text></g>
<g id="n100" class="b"><rect x="1297.4" y="1832" width="63.1" height="25"/><text x="1329" y="1844.5">服务器异常</text></g>
<g id="n101" class="b"><rect x="1224.4" y="1865" width="111.6" height="25"/><text x="1280.2" y="1877.5">跳转到“我的积分”页面</text></g>
<g id="n102" class="b"><rect x="1224.4" y="1898" width="51.9" height="25"/><text x="1250.4" y="1910.5">跳转异常</text></g>
<g id="n103" class="b"><rect x="1101" y="2219" width="228" height="25"/><text x="1215" y="2231.5">点击“商品收藏”，页面跳转到我收藏的所有商品</text></g>
<g id="n104" class="b"><rect x="1350" y="1982.3" width="84.2" height="25"/><text x="1392.1" y="1994.8">查找收藏的商品</text></g>
<g id="n105" class="b"><rect x="1455.2" y="1937.7" width="52.6" height="25"/><text x="1481.5" y="1950.2">查找成功</text></g>
<g id="n106" class="b"><rect x="1529.6" y="1930.7" width="230.1" height="38.6"/><text class="ml"><tspan x="1535.6" y="1943.5">输入正确且存在的商品信息：销售价格、原价、</tspan><tspan x="1535.6" y="1956.5">创建时间</tspan></text></g>
<g id="n107" class="b"><rect x="1780.7" y="1937.7" width="104.5" height="25"/><text x="1833" y="1950.2">预期结果：查找成功</text></g>
<g id="n108" class="b"><rect x="1455.2" y="2026.7" width="52.6" height="25"/><text x="1481.5" y="2039.2">查找失败</text></g>
<g id="n109" class="b"><rect x="1529.6" y="1977" width="103.8" height="25"/><text x="1581.5" y="1989.5">输入的商品信息错误</text></g>
<g id="n110" class="b"><rect x="1529.6" y="2010" width="72.9" height="25"/><text x="1566" y="2022.5">搜索按钮异常</text></g>
<g id="n111" class="b"><rect x="1529.6" y="2043" width="51.9" height="25"/><text x="1555.5" y="2055.5">网络异常</text></g>
<g id="n112" class="b"><rect x="1529.6" y="2076" width="62.4" height="25"/><text x="1560.8" y="2088.5">服务器异常</text></g>
<g id="n113" class="b"><rect x="1350" y="2141.7" width="73.6" height="25"/><text x="1386.8" y="2154.2">清除搜索条件</text></g>
<g id="n114" class="b"><rect x="1444.7" y="2109.3" width="52.6" height="25"/><text x="1471" y="2121.8">清除成功</text></g>
<g id="n115" class="b"><rect x="1518.3" y="2109.3" width="101.7" height="25"/><text x="1569.1" y="2121.8">点击“清除搜索条件”</text></g>
<g id="n116" class="b"><rect x="1641" y="2109.3" width="230.9" height="25"/><text x="1756.4" y="2121.8">预期结果：清除成功，页面显示全部收藏的商品</text></g>
<g id="n117" class="b"><rect x="1444.7" y="2175.3" width="52.6" height="25"/><text x="1471" y="2187.8">清除失败</text></g>
<g id="n118" class="b"><rect x="1518.3" y="2142.3" width="143.7" height="25"/><text x="1590.1" y="2154.8">点击“清除搜索条件”按钮异常</text></g>
<g id="n119" class="b"><rect x="1518.3" y="2175.3" width="52.7" height="25"/><text x="1544.6" y="2187.8">网络异常</text></g>
<g id="n120" class="b"><rect x="1518.3" y="2208.3" width="63.2" height="25"/><text x="1549.9" y="2220.8">服务器异常</text></g>
<g id="n121" class="b"><rect x="1350" y="2282.7" width="60.3" height="25"/><text x="1380.1" y="2295.2">点击“详情”</text></g>
<g id="n122" class="b"><rect x="1431.4" y="2241" width="52.6" height="25"/><text x="1457.7" y="2253.5">页面正常</text></g>
<g id="n123" class="b"><rect x="1505" y="2241" width="143.8" height="25"/><text x="1576.9" y="2253.5">跳出弹窗，点击“商品信息”框</text></g>
<g id="n124" class="b"><rect x="1669.9" y="2241" width="115.1" height="25"/><text x="1727.4" y="2253.5">跳转到商品的详情页面</text></g>
<g id="n125" class="b"><rect x="1431.4" y="2324" width="52.6" height="25"/><text x="1457.7" y="2336.5">页面异常</text></g>
<g id="n126" class="b"><rect x="1505" y="2274" width="80" height="25"/><text x="1545" y="2286.5">点击“详情”异常</text></g>
<g id="n127" class="b"><rect x="1505" y="2307.3" width="111.6" height="25"/><text x="1560.8" y="2319.8">点击“商品信息”框异常</text></g>
<g id="n128" class="b"><rect x="1505" y="2340.3" width="52" height="25"/><text x="1531" y="2352.8">网络异常</text></g>
<g id="n129" class="b"><rect x="1505" y="2373.3" width="62.5" height="25"/><text x="1536.2" y="2385.8">服务器异常</text></g>
<g id="n130" class="b"><rect x="1350" y="2455.7" width="60.3" height="25"/><text x="1380.1" y="2468.2">点击“删除”</text></g>
<g id="n131" class="b"><rect x="1431.4" y="2406.3" width="52.6" height="25"/><text x="1457.7" y="2418.8">删除成功</text></g>
<g id="n132" class="b"><rect x="1505" y="2406.3" width="111.6" height="25"/><text x="1560.8" y="2418.8">跳出弹窗，点击“确认”</text></g>
<g id="n133" class="b"><rect x="1638.3" y="2406.3" width="83.5" height="25"/><text x="1680" y="2418.8">提示：删除成功</text></g>
<g id="n134" class="b"><rect x="1431.4" y="2505.3" width="52.6" height="25"/><text x="1457.7" y="2517.8">删除失败</text></g>
<g id="n135" class="b"><rect x="1505" y="2439.3" width="80" height="25"/><text x="1545" y="2451.8">点击“删除”异常</text></g>
<g id="n136" class="b"><rect x="1505" y="2472.3" width="122" height="25"/><text x="1566" y="2484.8">跳出弹窗后，点击“取消”</text></g>
<g id="n137" class="b"><rect x="1505" y="2505.3" width="143" height="25"/><text x="1576.5" y="2517.8">跳出弹窗后，点击“确认”异常</text></g>
<g id="n138" class="b"><rect x="1505" y="2538.3" width="52" height="25"/><text x="1531" y="2550.8">网络异常</text></g>
<g id="n139" class="b"><rect x="1505" y="2571.3" width="62.5" height="25"/><text x="1536.2" y="2583.8">服务器异常</text></g>
<g id="n140" class="b"><rect x="1101" y="2604.3" width="80.6" height="25"/><text x="1141.3" y="2616.8">点击“安全退出”</text></g>
<g id="n141" class="b"><rect x="1202.7" y="2604.3" width="147.3" height="25"/><text x="1276.3" y="2616.8">登录退出，并跳转到商城首页</text></g>

<g id="n142" class="b"><rect x="859.6" y="3256.7" width="42.1" height="25"/><text x="880.6" y="3269.2">购物车</text></g>
<g id="n143" class="b"><rect x="922.8" y="3037.7" width="73.6" height="25"/><text x="959.6" y="3050.2">页面显示正常</text></g>
<g id="n144" class="b"><rect x="922.8" y="3475.3" width="73.6" height="25"/><text x="959.6" y="3487.8">页面显示异常</text></g>
<g id="n145" class="b"><rect x="1017.5" y="3442" width="51.9" height="25"/><text x="1043.4" y="3454.5">网络异常</text></g>
<g id="n146" class="b"><rect x="1017.5" y="3475.3" width="62.5" height="25"/><text x="1048.8" y="3487.8">服务器异常</text></g>
<g id="n147" class="b"><rect x="1017.5" y="3508.3" width="72.9" height="25"/><text x="1054" y="3520.8">网址输入有误</text></g>
<g id="n148" class="b"><rect x="1017.5" y="2785" width="31.5" height="25"/><text x="1033.3" y="2797.5">结算</text></g>
<g id="n149" class="b"><rect x="1017.5" y="2983.3" width="31.5" height="25"/><text x="1033.3" y="2995.8">删除</text></g>
<g id="n150" class="b"><rect x="1017.5" y="3156.3" width="31.5" height="25"/><text x="1033.3" y="3168.8">收藏</text></g>
<g id="n151" class="b"><rect x="1017.5" y="3290.7" width="51.9" height="25"/><text x="1043.4" y="3303.2">数量选择</text></g>
<g id="n152" class="b"><rect x="1070" y="2735.7" width="52" height="25"/><text x="1096" y="2748.2">结算成功</text></g>
<g id="n153" class="b"><rect x="1143.7" y="2735.7" width="161.3" height="25"/><text x="1224.4" y="2748.2">选择要结算的商品（单选/多选）</text></g>
<g id="n154" class="b"><rect x="1326.8" y="2735.7" width="59.7" height="25"/><text x="1356.7" y="2748.2">点击“结算”</text></g>
<g id="n155" class="b"><rect x="1407.5" y="2735.7" width="112.3" height="25"/><text x="1463.7" y="2748.2">跳转到“订单确认”页面</text></g>
<g id="n156" class="b"><rect x="1541.5" y="2735.7" width="80.7" height="25"/><text x="1581.9" y="2748.2">点击“提交订单”</text></g>
<g id="n157" class="b"><rect x="1070" y="2834.7" width="52" height="25"/><text x="1096" y="2847.2">结算失败</text></g>
<g id="n158" class="b"><rect x="1143.7" y="2768.7" width="73" height="25"/><text x="1180.2" y="2781.2">选择商品失败</text></g>
<g id="n159" class="b"><rect x="1143.7" y="2801.7" width="101.1" height="25"/><text x="1194.3" y="2814.2">点击“结算”按钮失败</text></g>
<g id="n160" class="b"><rect x="1143.7" y="2834.7" width="52" height="25"/><text x="1169.7" y="2847.2">网络异常</text></g>
<g id="n161" class="b"><rect x="1143.7" y="2867.7" width="62.5" height="25"/><text x="1175" y="2880.2">服务器异常</text></g>
<g id="n162" class="b"><rect x="1143.7" y="2900.7" width="52" height="25"/><text x="1169.7" y="2913.2">库存不足</text></g>
<g id="n163" class="b"><rect x="1070" y="2933.7" width="52" height="25"/><text x="1096" y="2946.2">删除成功</text></g>
<g id="n164" class="b"><rect x="1143.7" y="2933.7" width="111.6" height="25"/><text x="1199.5" y="2946.2">跳出弹窗，点击“确认”</text></g>
<g id="n165" class="b"><rect x="1277" y="2933.7" width="83.5" height="25"/><text x="1318.8" y="2946.2">提示：删除成功</text></g>
<g id="n166" class="b"><rect x="1070" y="3032.7" width="52" height="25"/><text x="1096" y="3045.2">删除失败</text></g>
<g id="n167" class="b"><rect x="1143.7" y="2966.7" width="80" height="25"/><text x="1183.7" y="2979.2">点击“删除”异常</text></g>
<g id="n168" class="b"><rect x="1143.7" y="2999.7" width="122.1" height="25"/><text x="1204.8" y="3012.2">跳出弹窗后，点击“取消”</text></g>
<g id="n169" class="b"><rect x="1143.7" y="3032.7" width="143.2" height="25"/><text x="1215.3" y="3045.2">跳出弹窗后，点击“确认”异常</text></g>
<g id="n170" class="b"><rect x="1143.7" y="3065.7" width="52" height="25"/><text x="1169.7" y="3078.2">网络异常</text></g>
<g id="n171" class="b"><rect x="1143.7" y="3098.7" width="62.5" height="25"/><text x="1175" y="3111.2">服务器异常</text></g>
<g id="n172" class="b"><rect x="1070" y="3131.7" width="52" height="25"/><text x="1096" y="3144.2">收藏成功</text></g>
<g id="n173" class="b"><rect x="1143.7" y="3131.7" width="59" height="25"/><text x="1173.2" y="3144.2">点击“收藏”</text></g>
<g id="n174" class="b"><rect x="1224.4" y="3131.7" width="83.6" height="25"/><text x="1266.2" y="3144.2">提示：收藏成功</text></g>
<g id="n175" class="b"><rect x="1070" y="3181" width="52" height="25"/><text x="1096" y="3193.5">收藏失败</text></g>
<g id="n176" class="b"><rect x="1143.7" y="3164.7" width="80" height="25"/><text x="1183.7" y="3177.2">点击“收藏”异常</text></g>
<g id="n177" class="b"><rect x="1143.7" y="3197.7" width="69.5" height="25"/><text x="1178.5" y="3210.2">点击“已收藏”</text></g>
<g id="n178" class="b"><rect x="1235" y="3197.7" width="83.4" height="25"/><text x="1276.7" y="3210.2">提示：取消成功</text></g>
<g id="n179" class="b"><rect x="1090.4" y="3237.3" width="52.6" height="25"/><text x="1116.7" y="3249.8">选择成功</text></g>
<g id="n180" class="b"><rect x="1164" y="3237.3" width="93.4" height="25"/><text x="1210.7" y="3249.8">点击 数量"-" / "+"</text></g>
<g id="n181" class="b"><rect x="1278.4" y="3230.7" width="230.1" height="38.3"/><text class="ml"><tspan x="1284.4" y="3243.3">数量相应的减少/增加，合计金额也相应的减少/</tspan><tspan x="1284.4" y="3256.3">增加</tspan></text></g>
<g id="n182" class="b"><rect x="1529.6" y="3237.3" width="83.4" height="25"/><text x="1571.3" y="3249.8">提示：更新成功</text></g>
<g id="n183" class="b"><rect x="1090.4" y="3342.7" width="52.6" height="25"/><text x="1116.7" y="3355.2">选择失败</text></g>
<g id="n184" class="b"><rect x="1164" y="3276.7" width="71" height="25"/><text x="1199.5" y="3289.2">数量选择＜0</text></g>
<g id="n185" class="b"><rect x="1256.7" y="3276.7" width="119.3" height="25"/><text x="1316.4" y="3289.2">提示：最低起购数量1个</text></g>
<g id="n186" class="b"><rect x="1164" y="3309.7" width="86.4" height="25"/><text x="1207.2" y="3322.2">数量选择“-”异常</text></g>
<g id="n187" class="b"><rect x="1164" y="3342.7" width="87.8" height="25"/><text x="1207.9" y="3355.2">数量选择“+”异常</text></g>
<g id="n188" class="b"><rect x="1164" y="3375.7" width="52.7" height="25"/><text x="1190.4" y="3388.2">网络异常</text></g>
<g id="n189" class="b"><rect x="1164" y="3408.7" width="63.2" height="25"/><text x="1195.6" y="3421.2">服务器异常</text></g>

<g id="n190" class="b"><rect x="859.6" y="4014.5" width="52.7" height="25"/><text x="886" y="4027">我的订单</text></g>
<g id="n191" class="b"><rect x="933.3" y="3862" width="73.7" height="25"/><text x="970.2" y="3874.5">页面显示正常</text></g>
<g id="n192" class="b"><rect x="933.3" y="4167.5" width="73.7" height="25"/><text x="970.2" y="4180">页面显示异常</text></g>
<g id="n193" class="b"><rect x="1028" y="4134.5" width="52.6" height="25"/><text x="1054.3" y="4147">网络异常</text></g>
<g id="n194" class="b"><rect x="1028" y="4167.5" width="62.4" height="25"/><text x="1059.2" y="4180">服务器异常</text></g>
<g id="n195" class="b"><rect x="1028" y="4200.5" width="73" height="25"/><text x="1064.5" y="4213">网址输入有误</text></g>
<g id="n196" class="b"><rect x="1028" y="3855.2" width="228.7" height="38.5"/><text class="ml"><tspan x="1034" y="3868">点击商品里面的“立即购买”按钮 / 点击购物车里</tspan><tspan x="1034" y="3881">的“结算”按钮，跳转到“订单确认”页面</tspan></text></g>
<g id="n197" class="b"><rect x="1277" y="3622.3" width="73.7" height="25"/><text x="1313.9" y="3634.8">选择取货方式</text></g>
<g id="n198" class="b"><rect x="1371.7" y="3556.7" width="31.6" height="25"/><text x="1387.5" y="3569.2">快递</text></g>
<g id="n199" class="b"><rect x="1424.3" y="3540.3" width="84.2" height="25"/><text x="1466.4" y="3552.8">选择到货的地址</text></g>
<g id="n200" class="b"><rect x="1424.3" y="3573.3" width="52" height="25"/><text x="1450.3" y="3585.8">新建地址</text></g>
<g id="n201" class="b"><rect x="1371.7" y="3622.7" width="31.6" height="25"/><text x="1387.5" y="3635.2">同城</text></g>
<g id="n202" class="b"><rect x="1424.3" y="3606.3" width="84.2" height="25"/><text x="1466.4" y="3618.8">选择到货的地址</text></g>
<g id="n203" class="b"><rect x="1424.3" y="3639.3" width="52" height="25"/><text x="1450.3" y="3651.8">新建地址</text></g>
<g id="n204" class="b"><rect x="1371.7" y="3672.3" width="31.6" height="25"/><text x="1387.5" y="3684.8">自提</text></g>
<g id="n205" class="b"><rect x="1424.3" y="3672.3" width="136.2" height="25"/><text x="1492.4" y="3684.8">选择显示存在的自提点地址</text></g>
<g id="n206" class="b"><rect x="1277" y="3903" width="73.7" height="25"/><text x="1313.9" y="3915.5">选择支付方式</text></g>
<g id="n207" class="b"><rect x="1371.7" y="3804.9" width="52.6" height="25"/><text x="1398" y="3817.4">支付成功</text></g>
<g id="n208" class="b"><rect x="1445.4" y="3705.7" width="51.9" height="25"/><text x="1471.4" y="3718.2">微信支付</text></g>
<g id="n209" class="b"><rect x="1519" y="3705.7" width="94" height="25"/><text x="1566" y="3718.2">跳转到相应的页面</text></g>
<g id="n210" class="b"><rect x="1445.4" y="3738.5" width="62.4" height="25"/><text x="1476.6" y="3751">支付宝支付</text></g>
<g id="n211" class="b"><rect x="1529.6" y="3738.5" width="94" height="25"/><text x="1576.6" y="3751">跳转到相应的页面</text></g>
<g id="n212" class="b"><rect x="1445.4" y="3771.2" width="83.5" height="25"/><text x="1487.2" y="3783.7">二维码扫码支付</text></g>
<g id="n213" class="b"><rect x="1550.6" y="3771.2" width="94" height="25"/><text x="1597.6" y="3783.7">跳转到相应的页面</text></g>
<g id="n214" class="b"><rect x="1445.4" y="3804.5" width="83.5" height="25"/><text x="1487.2" y="3817">添加银行卡支付</text></g>
<g id="n215" class="b"><rect x="1550.6" y="3804.5" width="94" height="25"/><text x="1597.6" y="3817">跳转到相应的页面</text></g>
<g id="n216" class="b"><rect x="1445.4" y="3837.3" width="51.9" height="25"/><text x="1471.4" y="3849.8">亲友代付</text></g>
<g id="n217" class="b"><rect x="1519" y="3837.3" width="94" height="25"/><text x="1566" y="3849.8">跳转到相应的页面</text></g>
<g id="n218" class="b"><rect x="1445.4" y="3870" width="51.9" height="25"/><text x="1471.4" y="3882.5">先用后付</text></g>
<g id="n219" class="b"><rect x="1519" y="3870" width="94" height="25"/><text x="1566" y="3882.5">跳转到相应的页面</text></g>
<g id="n220" class="b"><rect x="1445.4" y="3903" width="51.9" height="25"/><text x="1471.4" y="3915.5">分期付款</text></g>
<g id="n221" class="b"><rect x="1519" y="3903" width="94" height="25"/><text x="1566" y="3915.5">跳转到相应的页面</text></g>
<g id="n222" class="b"><rect x="1371.7" y="4002.3" width="52.6" height="25"/><text x="1398" y="4014.8">支付失败</text></g>
<g id="n223" class="b"><rect x="1445.4" y="3936.2" width="62.4" height="25"/><text x="1476.6" y="3948.7">无支付方式</text></g>
<g id="n224" class="b"><rect x="1445.4" y="3969.2" width="51.9" height="25"/><text x="1471.4" y="3981.7">余额不足</text></g>
<g id="n225" class="b"><rect x="1445.4" y="4002.3" width="72.9" height="25"/><text x="1481.9" y="4014.8">支付按钮异常</text></g>
<g id="n226" class="b"><rect x="1445.4" y="4034.7" width="51.9" height="25"/><text x="1471.4" y="4047.2">网络异常</text></g>
<g id="n227" class="b"><rect x="1445.4" y="4067.3" width="62.4" height="25"/><text x="1476.6" y="4079.8">服务器异常</text></g>
<g id="n228" class="b"><rect x="1277" y="4101.2" width="52.6" height="25"/><text x="1303.3" y="4113.7">买家留言</text></g>
<g id="n229" class="b"><rect x="1350.7" y="4101.2" width="104.5" height="25"/><text x="1403" y="4113.7">填写相应的备注信息</text></g>

<g id="collapse"><circle cx="1287" cy="631.8" r="4.5"/><path d="M1284.5,631.8H1289.5"/></g>
</g>
</svg>
